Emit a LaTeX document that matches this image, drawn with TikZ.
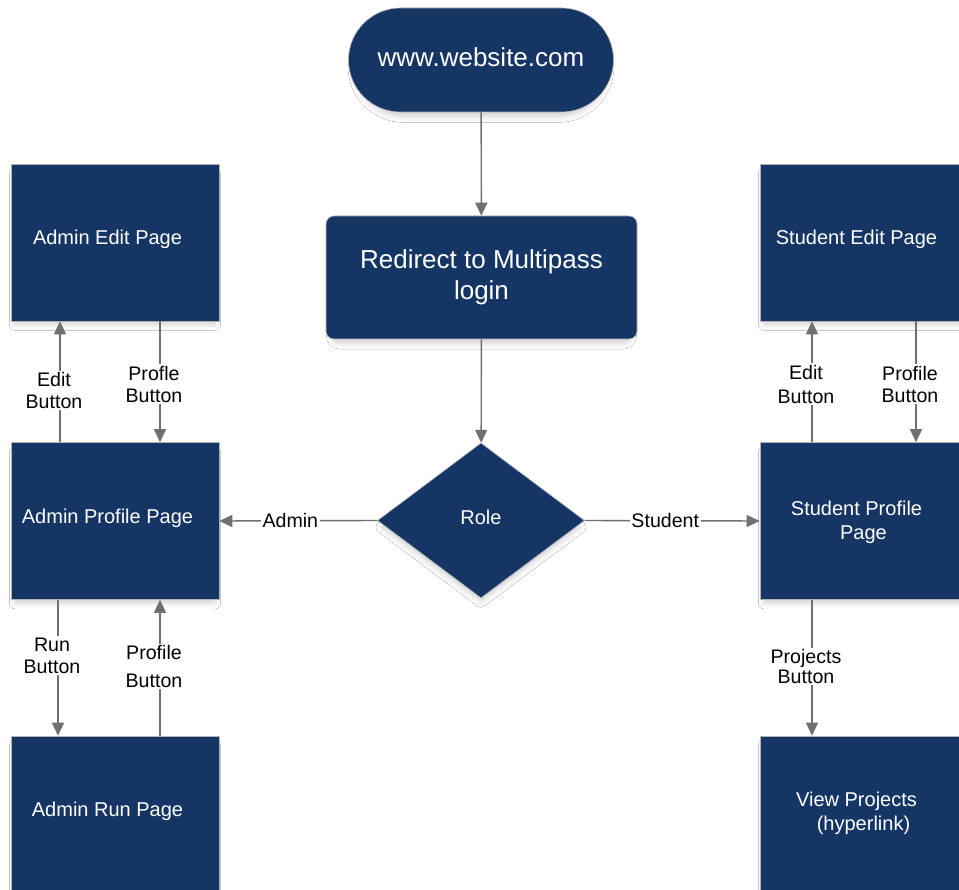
\documentclass[tikz,border=0pt]{standalone}
\usepackage{fontspec}
\setmainfont{Liberation Sans}
\usetikzlibrary{shapes.geometric,arrows.meta,shadows.blur}
\definecolor{navy}{RGB}{21,53,100}
\definecolor{edge}{RGB}{112,112,112}
\tikzset{
  soft/.style={blur shadow={shadow xshift=0pt,shadow yshift=-7pt,shadow scale=0.96,
    shadow blur radius=6pt,shadow opacity=18}},
  pagebox/.style={rectangle,fill=navy,draw=gray!60,line width=0.6pt,soft,
    minimum width=208pt,minimum height=157pt,inner sep=0pt},
  pagetext/.style={xshift=-7.5pt,yshift=3pt,text=white,align=center,
    font=\fontsize{20}{24}\selectfont},
  bigtext/.style={text=white,align=center,font=\fontsize{26}{31}\selectfont},
  arr/.style={draw=edge,line width=1.4pt,-{Triangle[length=13pt,width=12pt]}},
  lbl/.style={fill=white,inner sep=1.5pt,align=center,font=\fontsize{19.6}{22}\selectfont},
  vlbl/.style={lbl,xshift=-6pt}
}
\begin{document}
\begin{tikzpicture}[x=1pt,y=-1pt]
\useasboundingbox[fill=white] (0,0) rectangle (959,890);

% start and login
\node[rectangle,rounded corners=52pt,fill=navy,draw=gray!60,line width=0.6pt,soft,
      minimum width=265pt,minimum height=104pt,inner sep=0pt,
      label={[bigtext,yshift=3pt]center:www.website.com}] (web) at (481,60) {};
\node[rectangle,rounded corners=8pt,fill=navy,draw=gray!60,line width=0.6pt,soft,
      minimum width=311pt,minimum height=123pt,bigtext] (login) at (481.5,277.5) {Redirect to Multipass\\login};
\node[diamond,aspect=1.335,fill=navy,draw=gray!60,line width=0.6pt,soft,inner sep=0pt,
      minimum width=207pt,minimum height=155pt,
      label={[text=white,yshift=3pt,font=\fontsize{20}{24}\selectfont]center:Role}] (role) at (481,520.5) {};

% admin pages
\node[pagebox,label={[pagetext]center:Admin Edit Page}] (aedit) at (115,242.5) {};
\node[pagebox,label={[pagetext]center:Admin Profile Page}] (aprof) at (115,521) {};
\node[pagebox,label={[pagetext]center:Admin Run Page}] (arun) at (115,814.5) {};

% student pages
\node[pagebox,label={[pagetext]center:Student Edit Page}] (sedit) at (864,242.5) {};
\node[pagebox,label={[pagetext,yshift=-4pt]center:Student Profile\\\hspace*{14pt}Page}] (sprof) at (864,521) {};
\node[pagebox,label={[pagetext,yshift=-2pt]center:View Projects\\\hspace*{14pt}(hyperlink)}] (sproj) at (864,814.5) {};

% main flow
\draw[arr] (web) -- (login);
\draw[arr] (login) -- (role);
\draw[arr] (role.west) -- node[lbl,pos=0.55] {Admin} (aprof.east);
\draw[arr] (role.east) -- node[lbl,pos=0.46] {Student} (sprof.west);

% admin navigation
\draw[arr] ([xshift=-55pt]aprof.north) -- node[vlbl,pos=0.43] {Edit\\Button} ([xshift=-55pt]aedit.south);
\draw[arr] ([xshift=45pt]aedit.south) -- node[vlbl,pos=0.52] {Profle\\Button} ([xshift=45pt]aprof.north);
\draw[arr] ([xshift=-57pt]aprof.south) -- node[vlbl,pos=0.41] {Run\\Button} ([xshift=-57pt]arun.north);
\draw[arr] ([xshift=45pt]arun.north) -- node[vlbl,pos=0.51,font=\fontsize{19.6}{28}\selectfont] {Profile\\Button} ([xshift=45pt]aprof.south);

% student navigation
\draw[arr] ([xshift=-52pt]sprof.north) -- node[vlbl,pos=0.48,font=\fontsize{19.6}{24}\selectfont] {Edit\\Button} ([xshift=-52pt]sedit.south);
\draw[arr] ([xshift=52pt]sedit.south) -- node[vlbl,pos=0.52] {Profile\\Button} ([xshift=52pt]sprof.north);
\draw[arr] ([xshift=-52pt]sprof.south) -- node[vlbl,pos=0.49,font=\fontsize{19.6}{20}\selectfont] {Projects\\Button} ([xshift=-52pt]sproj.north);
\end{tikzpicture}
\end{document}
